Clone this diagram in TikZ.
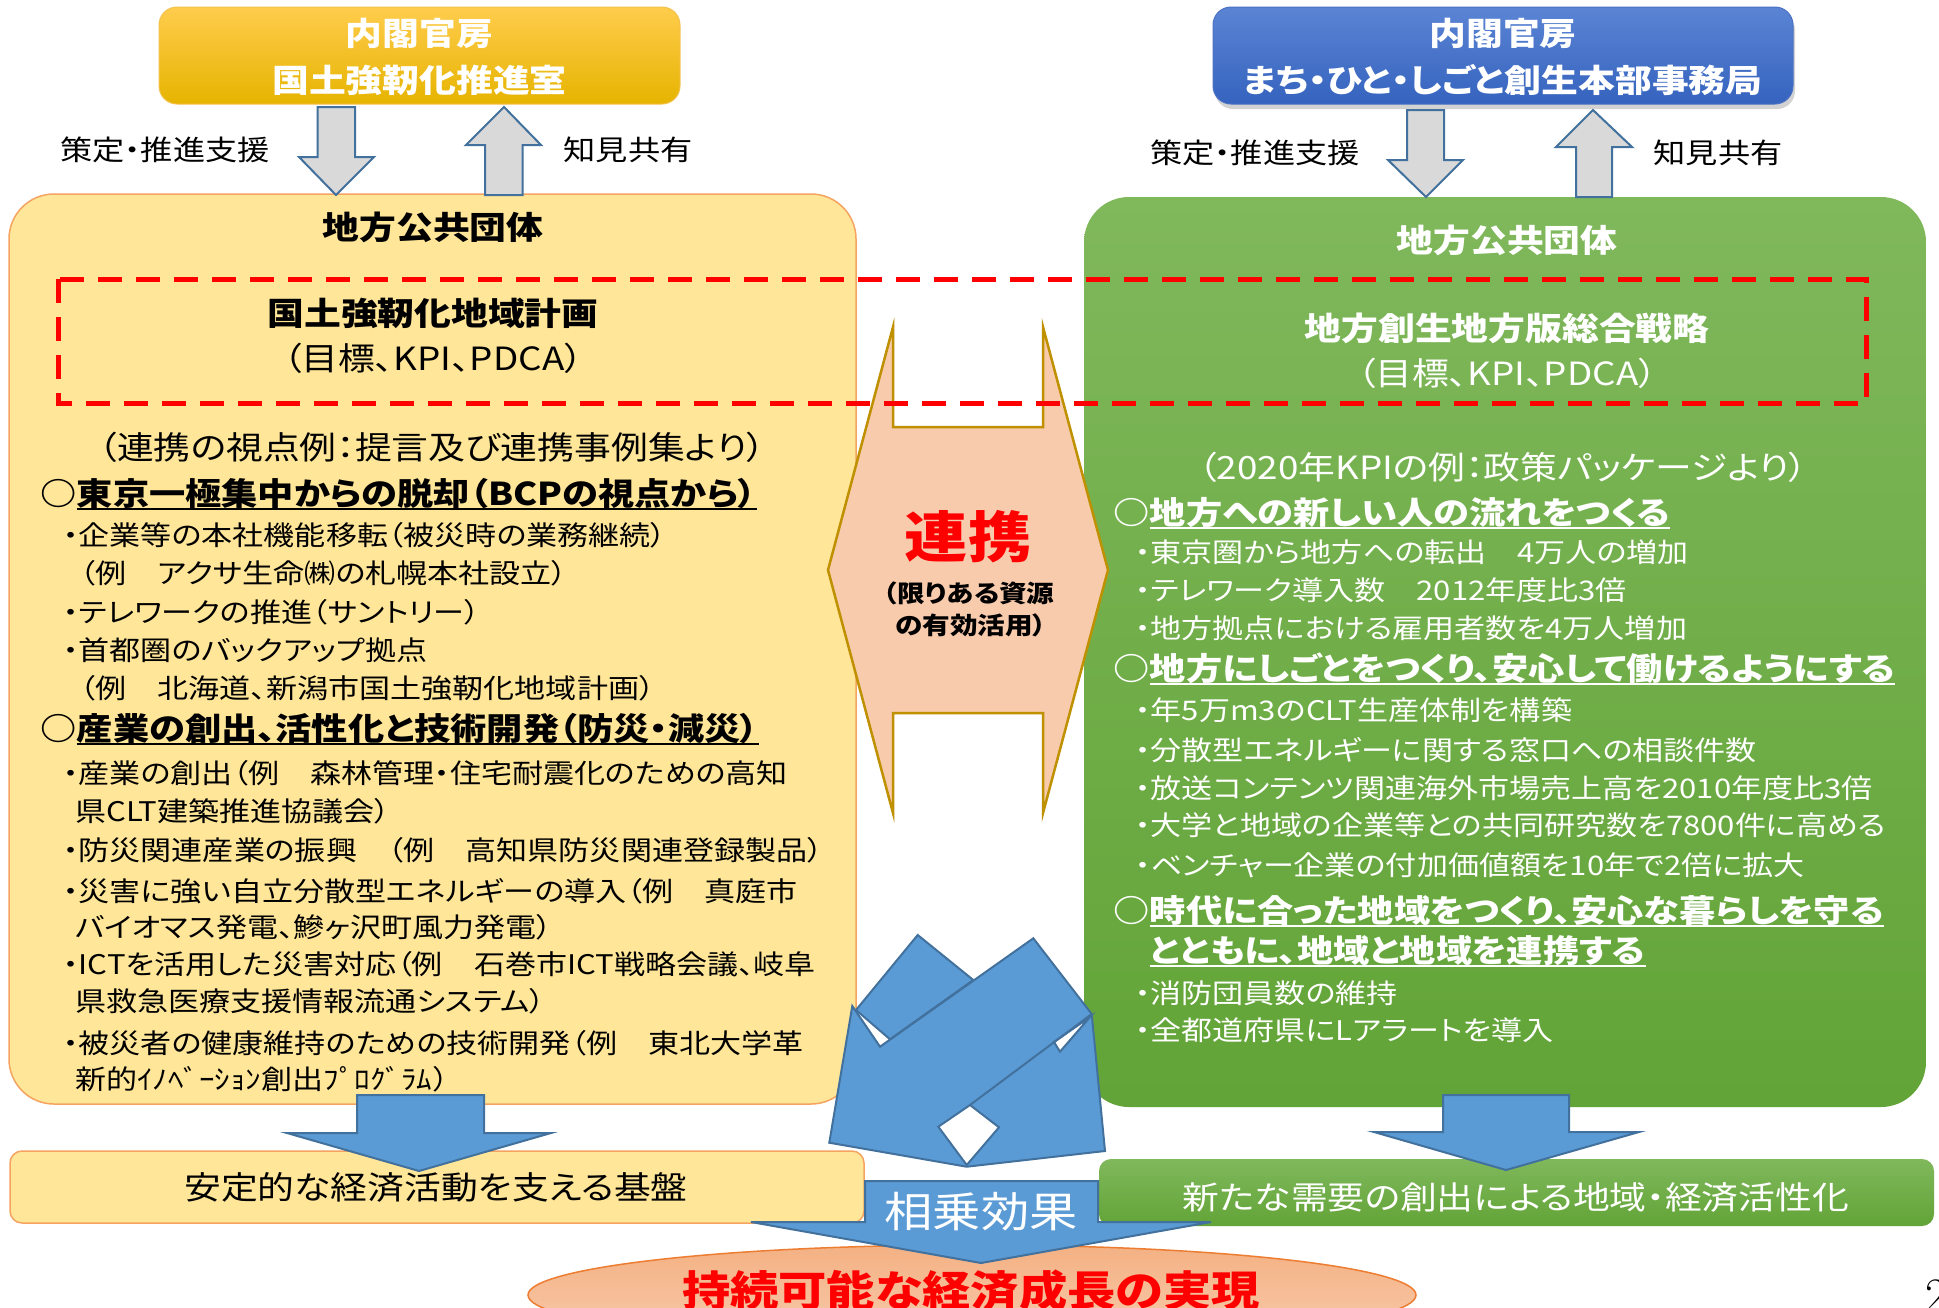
\documentclass[tikz,border=0pt]{standalone}
\usepackage{fontspec}
\usetikzlibrary{shadows}
\newfontfamily\jp[FakeStretch=1.15,RawFeature=+palt]{Noto Sans CJK JP}
\newfontfamily\jpn[FakeStretch=1.15]{Noto Sans CJK JP}
\definecolor{ylfill}{HTML}{FFE699}
\definecolor{ylline}{HTML}{F4A460}
\definecolor{gold1}{HTML}{FFCC4D}
\definecolor{goldm}{HTML}{FFC000}
\definecolor{gold2}{HTML}{E6B400}
\definecolor{goldl}{HTML}{F2C24C}
\definecolor{blue1}{HTML}{5B84D4}
\definecolor{blue2}{HTML}{3563BE}
\definecolor{bluel}{HTML}{4A72C4}
\definecolor{grn1}{HTML}{80B85C}
\definecolor{grn2}{HTML}{62A437}
\definecolor{arrblue}{HTML}{5B9BD5}
\definecolor{arrline}{HTML}{41719C}
\definecolor{graya}{HTML}{D9D9D9}
\definecolor{peach}{HTML}{F8CBAD}
\definecolor{hexline}{HTML}{BF9000}
\definecolor{ell1}{HTML}{F4B183}
\definecolor{ell2}{HTML}{F8CBAD}
\definecolor{ellline}{HTML}{ED7D31}
\begin{document}
\begin{tikzpicture}[x=1pt,y=-1pt,
  body/.style={font=\jp\fontsize{27}{33}\selectfont, inner sep=0pt, text height=24pt, text depth=3.5pt, anchor=west},
  wbody/.style={body, text=white},
  hd/.style={font=\jp\bfseries\fontsize{31.5}{38}\selectfont, inner sep=0pt, text height=28pt, text depth=4pt, anchor=west},
  whd/.style={hd, text=white},
  sub/.style={font=\jp\fontsize{32}{38}\selectfont, inner sep=0pt},
  title/.style={font=\jp\bfseries\fontsize{32}{38}\selectfont, inner sep=0pt},
  lab/.style={font=\jp\fontsize{28}{34}\selectfont, inner sep=0pt},
  ul/.style={line width=2.5pt},
  grayarrow/.style={fill=graya, draw=arrline, line width=2pt},
  bluearrow/.style={fill=arrblue, draw=arrline, line width=2pt},
  hole/.style={fill=white, draw=arrline, line width=2pt},
  reddash/.style={draw=red, line width=5pt, dash pattern=on 24pt off 14pt}
]
\useasboundingbox (0,0) rectangle (1939,1307);
\fill[white] (0,0) rectangle (1939,1307);

% containers
\node[draw=ylline, line width=1.5pt, fill=ylfill, rounded corners=45pt, minimum width=847pt, minimum height=910pt, inner sep=0pt] (lbox) at (432.5,649) {};
\node[top color=grn1, bottom color=grn2, rounded corners=45pt, minimum width=842pt, minimum height=910pt, inner sep=0pt] (rbox) at (1505,652) {};

% top boxes
\node[rounded corners=18pt, top color=gold1, middle color=goldm, bottom color=gold2, draw=goldl, line width=1pt, minimum width=521pt, minimum height=97pt, inner sep=0pt] (cabL) at (419.5,55.5) {};
\node[title, text=white] (cabL1) at (419.5,33) {内閣官房};
\node[title, text=white] (cabL2) at (419.5,80) {国土強靭化推進室};
\node[rounded corners=18pt, top color=blue1, bottom color=blue2, draw=bluel, line width=1pt, drop shadow={opacity=0.35, shadow xshift=2pt, shadow yshift=-5pt}, minimum width=580pt, minimum height=97pt, inner sep=0pt] (cabR) at (1503,55.5) {};
\node[title, text=white] (cabR1) at (1503,33) {内閣官房};
\node[title, text=white] (cabR2) at (1503,80) {まち・ひと・しごと創生本部事務局};

% gray arrows
\draw[grayarrow] (317.5,107) -- (355,107) -- (355,157) -- (374,157) -- (336,195) -- (299,157) -- (317.5,157) -- cycle;
\draw[grayarrow] (485,195) -- (522.5,195) -- (522.5,145) -- (541,145) -- (504,107) -- (466,145) -- (485,145) -- cycle;
\draw[grayarrow] (1407,110) -- (1444,110) -- (1444,160) -- (1463,160) -- (1426,197) -- (1388,160) -- (1407,160) -- cycle;
\draw[grayarrow] (1576,197) -- (1612,197) -- (1612,147) -- (1632,147) -- (1593,110) -- (1556,147) -- (1576,147) -- cycle;
\node[lab] (sL) at (165,150) {策定・推進支援};
\node[lab] (kL) at (628,150) {知見共有};
\node[lab] (sR) at (1255,153) {策定・推進支援};
\node[lab] (kR) at (1718,153) {知見共有};

% container titles
\node[title] (lt) at (433,227) {地方公共団体};
\node[title, text=white] (rt) at (1507,240) {地方公共団体};
\node[title] (lp) at (433,313) {国土強靭化地域計画};
\node[sub] (lp2) at (433,358) {（目標、KPI、PDCA）};
\node[title, text=white] (rp) at (1507,328) {地方創生地方版総合戦略};
\node[sub, text=white] (rp2) at (1507,373) {（目標、KPI、PDCA）};

% left texts
\node[sub] (ls) at (432,447) {（連携の視点例：提言及び連携事例集より）};
\node[hd] (lh1m) at (40,493) {○};
\node[hd] (lh1) at (lh1m.east) {東京一極集中からの脱却（BCPの視点から）};
\draw[ul] (lh1.south west) -- (lh1.south east);
\node[body] (l1) at (63,535) {・企業等の本社機能移転（被災時の業務継続）};
\node[body] (l2) at (80,573) {（例　アクサ生命㈱の札幌本社設立）};
\node[body] (l3) at (63,612) {・テレワークの推進（サントリー）};
\node[body] (l4) at (63,650) {・首都圏のバックアップ拠点};
\node[body] (l5) at (80,688) {（例　北海道、新潟市国土強靭化地域計画）};
\node[hd] (lh2m) at (40,728) {○};
\node[hd] (lh2) at (lh2m.east) {産業の創出、活性化と技術開発（防災・減災）};
\draw[ul] (lh2.south west) -- (lh2.south east);
\node[body] (l6) at (63,773) {・産業の創出（例　森林管理・住宅耐震化のための高知};
\node[body] (l7) at (75,811) {県CLT建築推進協議会）};
\node[body] (l8) at (63,850) {・防災関連産業の振興　（例　高知県防災関連登録製品）};
\node[body] (l9) at (63,891) {・災害に強い自立分散型エネルギーの導入（例　真庭市};
\node[body] (l10) at (75,927) {バイオマス発電、鰺ヶ沢町風力発電）};
\node[body] (l11) at (63,964) {・ICTを活用した災害対応（例　石巻市ICT戦略会議、岐阜};
\node[body] (l12) at (75,1001) {県救急医療支援情報流通システム）};
\node[body] (l13) at (63,1043) {・被災者の健康維持のための技術開発（例　東北大学革};
\node[body, font=\jpn\fontsize{27}{33}\selectfont] (l14) at (75,1079) {新的ｲﾉﾍﾞｰｼｮﾝ創出ﾌﾟﾛｸﾞﾗﾑ）};

% right texts
\node[sub, text=white] (rs) at (1503,467) {（2020年KPIの例：政策パッケージより）};
\node[whd] (rh1m) at (1113,512) {○};
\node[whd] (rh1) at (rh1m.east) {地方への新しい人の流れをつくる};
\draw[ul, white] (rh1.south west) -- (rh1.south east);
\node[wbody] (r1) at (1135,552) {・東京圏から地方への転出　4万人の増加};
\node[wbody] (r2) at (1135,590) {・テレワーク導入数　2012年度比3倍};
\node[wbody] (r3) at (1135,628) {・地方拠点における雇用者数を4万人増加};
\node[whd] (rh2m) at (1113,668) {○};
\node[whd] (rh2) at (rh2m.east) {地方にしごとをつくり、安心して働けるようにする};
\draw[ul, white] (rh2.south west) -- (rh2.south east);
\node[wbody] (r4) at (1135,710) {・年5万m3のCLT生産体制を構築};
\node[wbody] (r5) at (1135,750) {・分散型エネルギーに関する窓口への相談件数};
\node[wbody] (r6) at (1135,788) {・放送コンテンツ関連海外市場売上高を2010年度比3倍};
\node[wbody] (r7) at (1135,825) {・大学と地域の企業等との共同研究数を7800件に高める};
\node[wbody] (r8) at (1135,865) {・ベンチャー企業の付加価値額を10年で2倍に拡大};
\node[whd] (rh3m) at (1113,910) {○};
\node[whd] (rh3) at (rh3m.east) {時代に合った地域をつくり、安心な暮らしを守る};
\draw[ul, white] (rh3.south west) -- (rh3.south east);
\node[whd] (rh4) at (rh3.west |- 0,950) {とともに、地域と地域を連携する};
\draw[ul, white] (rh4.south west) -- (rh4.south east);
\node[wbody] (r9) at (1135,993) {・消防団員数の維持};
\node[wbody] (r10) at (1135,1030) {・全都道府県にLアラートを導入};

% hexagon
\draw[fill=peach, draw=hexline, line width=2.5pt] (828,570) -- (893,327) -- (893,427) -- (1043,427) -- (1043,327) -- (1108,570) -- (1043,813) -- (1043,713) -- (893,713) -- (893,813) -- cycle;
\node[font=\jp\bfseries\fontsize{55}{60}\selectfont, text=red, inner sep=0pt] (renkei) at (968,537) {連携};
\node[font=\jp\bfseries\fontsize{24}{28}\selectfont, inner sep=0pt] (rk1) at (969,593) {（限りある資源};
\node[font=\jp\bfseries\fontsize{24}{28}\selectfont, inner sep=0pt] (rk2) at (971,625) {の有効活用）};

% red dashed frame
\draw[reddash] (58,279) rectangle (1866,403);

% bottom boxes
\node[draw=ylline, line width=1.5pt, fill=ylfill, rounded corners=12pt, minimum width=854pt, minimum height=72pt, inner sep=0pt] (bL) at (437,1187) {};
\node[font=\jp\fontsize{32}{38}\selectfont, inner sep=0pt] (bLt) at (436,1187) {安定的な経済活動を支える基盤};
\node[top color=grn1, bottom color=grn2, rounded corners=12pt, minimum width=835pt, minimum height=67pt, inner sep=0pt] (bR) at (1516.5,1192.5) {};
\node[font=\jp\fontsize{32}{38}\selectfont, text=white, inner sep=0pt] (bRt) at (1516,1197) {新たな需要の創出による地域・経済活性化};

% blue arrows down
\draw[bluearrow] (357,1095) -- (484,1095) -- (484,1133) -- (551,1133) -- (419,1171) -- (287,1133) -- (357,1133) -- cycle;
\draw[bluearrow] (1443,1095) -- (1569,1095) -- (1569,1132) -- (1639,1132) -- (1506,1170) -- (1374,1132) -- (1443,1132) -- cycle;

% central interlocking shape
\draw[bluearrow, line join=miter] (917.7,935) -- (973.3,980) -- (890,1039.3) -- (856,1010) -- cycle;
\draw[bluearrow, line join=miter] (852.3,1006) -- (880,1046.7) -- (1033.3,938.3) -- (1091.7,1014) -- (1105,1151) -- (966.7,1166.7) -- (829.3,1142.7) -- cycle;
\draw[hole] (1090,1017) -- (1054,1042) -- (1060,1051.7) -- cycle;
\draw[arrline, line width=2pt] (1091.7,1014) -- (970,1105);
\draw[hole] (970,1105) -- (999,1127.3) -- (966.7,1165) -- (938.3,1126.7) -- cycle;

% goal ellipse and synergy arrow
\draw[top color=ell1, bottom color=ell2, draw=ellline, line width=1.5pt] (972,1295) ellipse [x radius=444, y radius=50];
\draw[bluearrow] (865,1181) -- (1098,1181) -- (1098,1222) -- (1211,1222) -- (981,1263) -- (751,1222) -- (865,1222) -- cycle;
\node[font=\jp\fontsize{42}{48}\selectfont, text=white, inner sep=0pt] (syn) at (981,1212) {相乗効果};
\node[font=\jp\bfseries\fontsize{42}{48}\selectfont, text=red, inner sep=0pt] (goal) at (971,1290) {持続可能な経済成長の実現};

% page number (cut by page edge)
\node[font=\fontsize{48}{52}\selectfont, inner sep=0pt, anchor=west] (pg) at (1925,1296) {2};
\end{tikzpicture}
\end{document}
